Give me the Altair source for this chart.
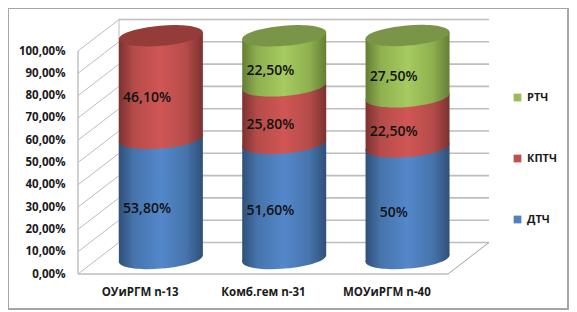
import json
import altair as alt
import pandas as pd

categories = ["ОУиРГМ n-13", "Комб.гем n-31", "МОУиРГМ n-40"]
series_names = ["ДТЧ", "КПТЧ", "РТЧ"]
dtch = [53.8, 51.6, 50.0]
kptch = [46.1, 25.8, 22.5]
rtch = [0.0, 22.5, 27.5]
dtch_labels = ["53,80%", "51,60%", "50%"]
kptch_labels = ["46,10%", "25,80%", "22,50%"]
rtch_labels = ["", "22,50%", "27,50%"]
y_ticks = [0, 10, 20, 30, 40, 50, 60, 70, 80, 90, 100]

W, H = 561, 302
FONT = "Open Sans"
PX_X = 123.33          # pixels per category
PX_Y = 2.23            # pixels per percentage point
FRONT_X, FRONT_Y = 70, 266
xscale = alt.Scale(domain=[-FRONT_X / PX_X, (W - FRONT_X) / PX_X], nice=False, zero=False)
yscale = alt.Scale(domain=[(FRONT_Y - H) / PX_Y, FRONT_Y / PX_Y], nice=False, zero=False)
DX, DY = 41 / PX_X, 31.5 / PX_Y
CX_OFF, CY_OFF = 0.172, 15.5 / PX_Y
RADIUS = 42 / PX_X
TILT = 3.5 / PX_Y
CAP = "M-1,0.083 A1.003,0.24,-4.8,1,1,1,-0.083 A1.003,0.24,-4.8,1,1,-1,0.083 Z"
GRID = "#bdbdbd"


def grad(dark, mid, light):
    return alt.LinearGradient(
        gradient="linear", x1=0, x2=1, y1=0, y2=0,
        stops=[
            alt.GradientStop(offset=0, color=dark),
            alt.GradientStop(offset=0.18, color=mid),
            alt.GradientStop(offset=0.5, color=light),
            alt.GradientStop(offset=0.8, color=mid),
            alt.GradientStop(offset=1, color=dark),
        ],
    )


FILLS = {
    "ДТЧ": grad("#2f5079", "#4674ab", "#5488cb"),
    "КПТЧ": grad("#7b3231", "#b54c4a", "#d05654"),
    "РТЧ": grad("#647e35", "#8fb04f", "#a6cb60"),
}
CAPS = {"ДТЧ": "#3f6797", "КПТЧ": "#933c3a", "РТЧ": "#7a9548"}
LEGEND = {"ДТЧ": "#4f81bd", "КПТЧ": "#c0504d", "РТЧ": "#9bbb59"}

axis_x = alt.Axis(
    values=[0.5, 1.5, 2.5], labelExpr=f"{json.dumps(categories, ensure_ascii=False)}[round(datum.value-0.5)]",
    domain=False, ticks=False, grid=False, offset=-24, labelPadding=0, labelFont=FONT, labelFontSize=11.5,
    labelFontWeight="bold", labelColor="#1a1a1a", labelOverlap=False, title=None, labelFlush=False,
)
axis_y = alt.Axis(
    values=y_ticks, labelExpr="replace(format(datum.value,'.2f'),'.',',')+'%'",
    domain=False, ticks=False, grid=False, offset=-57, labelPadding=0, labelFont=FONT, labelFontSize=11.5,
    labelFontWeight="bold", labelColor="#1a1a1a", labelOverlap=False, title=None,
)
X = lambda f="x": alt.X(f"{f}:Q", scale=xscale, axis=axis_x, title=None)
Y = lambda f="y": alt.Y(f"{f}:Q", scale=yscale, axis=axis_y, title=None)

layers = []

# walls and floor
walls = []
for t in y_ticks:
    walls.append(dict(x=0, y=t, x2=DX, y2=t + DY, w=1.0, c=GRID))
    walls.append(dict(x=DX, y=t + DY, x2=3 + DX, y2=t + DY, w=1.6, c=GRID))
walls.append(dict(x=0, y=0, x2=0, y2=100, w=1.4, c=GRID))
walls.append(dict(x=DX, y=DY, x2=DX, y2=100 + DY, w=1.0, c=GRID))
walls.append(dict(x=0, y=0, x2=3, y2=0, w=1.6, c=GRID))
walls.append(dict(x=3, y=0, x2=3 + DX, y2=DY, w=1.0, c="#a0a0a0"))

layers.append(
    alt.Chart(pd.DataFrame(walls)).mark_rule().encode(
        x=X(), y=Y(),
        x2="x2:Q", y2="y2:Q",
        strokeWidth=alt.StrokeWidth("w:Q", scale=None),
        stroke=alt.Stroke("c:N", scale=None),
    )
)

# cylinders
texts = []
for i, cat in enumerate(categories):
    cx = i + 0.5 + CX_OFF
    base = 0.0
    parts = [("ДТЧ", dtch[i], dtch_labels[i]), ("КПТЧ", kptch[i], kptch_labels[i]), ("РТЧ", rtch[i], rtch_labels[i])]
    parts = [p for p in parts if p[1] > 0]
    for name, v, lab in parts:
        top = base + v
        lo = base + CY_OFF
        hi = top + CY_OFF
        layers.append(
            alt.Chart(pd.DataFrame([dict(x=cx, y=lo)])).mark_point(
                filled=True, shape=CAP, size=7056, fill=FILLS[name], opacity=1, strokeWidth=0
            ).encode(x=X(), y=Y())
        )
        layers.append(
            alt.Chart(pd.DataFrame([
                dict(x=cx - RADIUS, y=hi - TILT, y2=lo - TILT),
                dict(x=cx + RADIUS, y=hi + TILT, y2=lo + TILT),
            ])).mark_area(fill=FILLS[name], opacity=1).encode(x=X(), y=Y(), y2="y2:Q")
        )
        texts.append(dict(x=i + 0.56, y=base + v / 2 + 5 / PX_Y, t=lab))
        base = top
    layers.append(
        alt.Chart(pd.DataFrame([dict(x=cx, y=base + CY_OFF)])).mark_point(
            filled=True, shape=CAP, size=7056, fill=CAPS[parts[-1][0]], opacity=1, strokeWidth=0
        ).encode(x=X(), y=Y())
    )

layers.append(
    alt.Chart(pd.DataFrame(texts)).mark_text(
        font=FONT, fontSize=14, fontWeight=600, color="#111111", align="center", baseline="middle"
    ).encode(x=X(), y=Y(), text="t:N")
)

# legend
legend_df = pd.DataFrame(dict(s=series_names, x=[1.0] * 3, y=[1.0] * 3))
layers.append(
    alt.Chart(legend_df).mark_point(filled=True, size=0).encode(
        x=X(), y=Y(),
        color=alt.Color(
            "s:N",
            scale=alt.Scale(domain=series_names[::-1], range=[LEGEND[n] for n in series_names[::-1]]),
            legend=alt.Legend(
                orient="none", legendX=504, legendY=84, title=None, symbolType="square", symbolSize=60,
                symbolStrokeWidth=0, labelFont=FONT, labelFontSize=11, labelFontWeight="bold",
                labelColor="#1a1a1a", rowPadding=49, padding=0, labelOffset=4, symbolOpacity=1,
            ),
        ),
    )
)

# frame
frame = pd.DataFrame([
    dict(x=xscale.domain[0], y=yscale.domain[0] + 1 / PX_Y, x2=xscale.domain[1], y2=yscale.domain[0] + 1 / PX_Y),
    dict(x=xscale.domain[1] - 1 / PX_X, y=yscale.domain[0], x2=xscale.domain[1] - 1 / PX_X, y2=yscale.domain[1]),
    dict(x=xscale.domain[0], y=yscale.domain[1], x2=xscale.domain[1], y2=yscale.domain[1]),
    dict(x=xscale.domain[0], y=yscale.domain[0], x2=xscale.domain[0], y2=yscale.domain[1]),
])
layers.append(
    alt.Chart(frame).mark_rule(color="#a6a6a6", strokeWidth=2).encode(x=X(), y=Y(), x2="x2:Q", y2="y2:Q")
)

chart = alt.layer(*layers).properties(
    width=W, height=H, padding=0, background="white", autosize=alt.AutoSizeParams(type="none")
).configure_view(stroke=None)

chart.save("out.html", embed_options={"renderer": "svg", "actions": False})
